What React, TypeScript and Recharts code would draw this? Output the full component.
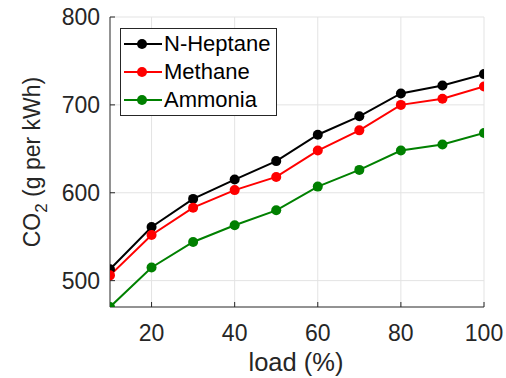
import React from "react"
import {
  LineChart,
  Line,
  XAxis,
  YAxis,
  CartesianGrid,
  Legend,
} from "recharts"

const LOADS = [10, 20, 30, 40, 50, 60, 70, 80, 90, 100]
const HEPTANE = [513, 561, 593, 615, 636, 666, 687, 713, 722, 735]
const METHANE = [506, 552, 583, 603, 618, 648, 671, 700, 707, 721]
const AMMONIA = [470, 515, 544, 563, 580, 607, 626, 648, 655, 668]
const X_TICKS = [20, 40, 60, 80, 100]
const Y_TICKS = [500, 600, 700, 800]

const SERIES = [
  { key: "heptane", name: "N-Heptane", color: "#000000" },
  { key: "methane", name: "Methane", color: "#ff0000" },
  { key: "ammonia", name: "Ammonia", color: "#008000" },
]

const data = LOADS.map((load, i) => ({
  load,
  heptane: HEPTANE[i],
  methane: METHANE[i],
  ammonia: AMMONIA[i],
}))

const FONT = "'Liberation Sans', Arial, Helvetica, sans-serif"
const INK = "#262626"

function LegendBox() {
  return (
    <div
      style={{
        background: "#fff",
        border: `1px solid ${INK}`,
        width: 155,
        height: 86,
        boxSizing: "content-box",
        fontFamily: FONT,
        fontSize: 22,
        color: "#000",
        lineHeight: 1,
      }}
    >
      {SERIES.map((s, i) => (
        <div
          key={s.key}
          style={{ display: "flex", alignItems: "center", height: 28, marginTop: i === 0 ? 1 : 0 }}
        >
          <svg width={43} height={14} style={{ flex: "none" }}>
            <line x1={3} y1={7} x2={41} y2={7} stroke={s.color} strokeWidth={2} />
            <circle cx={21} cy={7} r={5} fill={s.color} />
          </svg>
          <span>{s.name}</span>
        </div>
      ))}
    </div>
  )
}

function YLabel() {
  return (
    <text
      x={40}
      y={162}
      transform="rotate(-90, 40, 162)"
      textAnchor="middle"
      fontFamily={FONT}
      fontSize={23}
      fill={INK}
    >
      <tspan>CO</tspan>
      <tspan dy={7} fontSize={17}>2</tspan>
      <tspan dy={-7}> (g per kWh)</tspan>
    </text>
  )
}

function XLabel() {
  return (
    <text x={296} y={371} textAnchor="middle" fontFamily={FONT} fontSize={25.5} fill={INK}>
      load (%)
    </text>
  )
}

export default function App() {
  return (
    <div style={{ position: "absolute", left: 0, top: 0, background: "#fff" }}>
      <LineChart
        width={506}
        height={378}
        data={data}
        margin={{ top: 17, right: 22, bottom: 31, left: 0 }}
      >
        <CartesianGrid stroke="#e3e3e3" strokeWidth={1} verticalValues={X_TICKS} horizontalValues={Y_TICKS} />
        <XAxis
          dataKey="load"
          type="number"
          domain={[10, 100]}
          ticks={X_TICKS}
          allowDataOverflow
          height={40}
          stroke={INK}
          tickLine={{ stroke: INK }}
          tickSize={-5}
          tickMargin={23}
          tick={{ fill: INK, fontSize: 23, fontFamily: FONT }}
          label={<XLabel />}
        />
        <XAxis
          xAxisId="top"
          orientation="top"
          dataKey="load"
          type="number"
          domain={[10, 100]}
          ticks={X_TICKS}
          height={0}
          stroke={INK}
          tick={false}
          tickSize={-5}
        />
        <YAxis
          type="number"
          domain={[470, 800]}
          ticks={Y_TICKS}
          allowDataOverflow
          width={110}
          stroke={INK}
          tickSize={-5}
          tickMargin={15}
          tick={{ fill: INK, fontSize: 23, fontFamily: FONT }}
          label={<YLabel />}
        />
        <YAxis
          yAxisId="right"
          orientation="right"
          type="number"
          domain={[470, 800]}
          ticks={Y_TICKS}
          width={0}
          stroke={INK}
          tick={false}
          tickSize={-5}
        />
        <Legend
          layout="horizontal"
          verticalAlign="middle"
          align="center"
          content={() => <LegendBox />}
          wrapperStyle={{ left: 120, top: 28, width: "auto", bottom: "auto" }}
        />
        {SERIES.map((s) => (
          <Line
            key={s.key}
            dataKey={s.key}
            name={s.name}
            stroke={s.color}
            strokeWidth={2}
            dot={{ r: 5, fill: s.color, stroke: s.color, strokeWidth: 0 }}
            activeDot={false}
            isAnimationActive={false}
          />
        ))}
      </LineChart>
    </div>
  )
}
